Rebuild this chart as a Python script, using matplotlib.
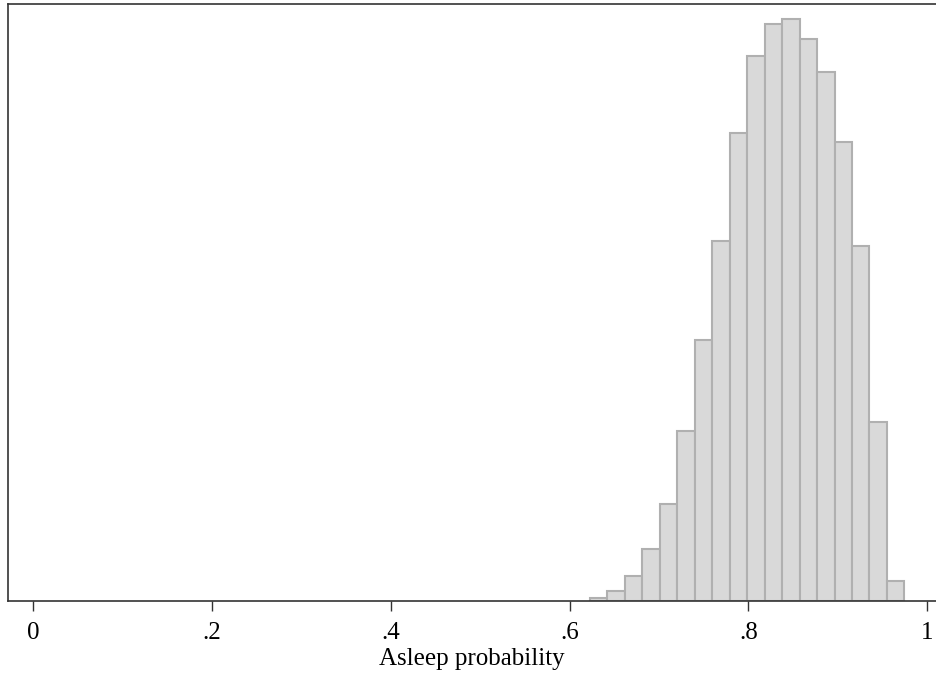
import numpy as np
import matplotlib
matplotlib.use('Agg')
import matplotlib.pyplot as plt

plt.rcParams['font.family'] = ['Liberation Serif', 'DejaVu Serif']

# histogram of asleep probability (density scale)
bin_start = 0.6228
bin_width = 0.01953
density = [0.026, 0.095, 0.246, 0.505, 0.945, 1.66, 2.54, 3.51, 4.56,
           5.31, 5.62, 5.67, 5.48, 5.16, 4.47, 3.46, 1.74, 0.198]
xticks = [0, 0.2, 0.4, 0.6, 0.8, 1.0]
xticklabels = ['0', '.2', '.4', '.6', '.8', '1']

edges = bin_start + bin_width*np.arange(len(density))

fig = plt.figure(figsize=(9.36, 6.75), dpi=100)
ax = fig.add_axes([8/936, 74/675, 1 - 8/936, 597.5/675])

ax.bar(edges, density, width=bin_width, align='edge',
       color='#d9d9d9', edgecolor='#b0b0b0', linewidth=1.5, zorder=2)

ax.set_xlim(-0.028, 1.0097)
ax.set_ylim(0, 5.824)
ax.set_xticks(xticks)
ax.set_xticklabels(xticklabels, fontsize=18)
ax.set_yticks([])
ax.tick_params(axis='x', length=7.2, width=1, color='#333333', pad=8)
ax.set_xlabel('Asleep probability', fontsize=18, labelpad=3)

for side in ['left', 'top', 'bottom']:
    ax.spines[side].set_color('#333333')
    ax.spines[side].set_linewidth(1.2)
ax.spines['right'].set_visible(False)

fig.savefig('out.png', dpi=100)
